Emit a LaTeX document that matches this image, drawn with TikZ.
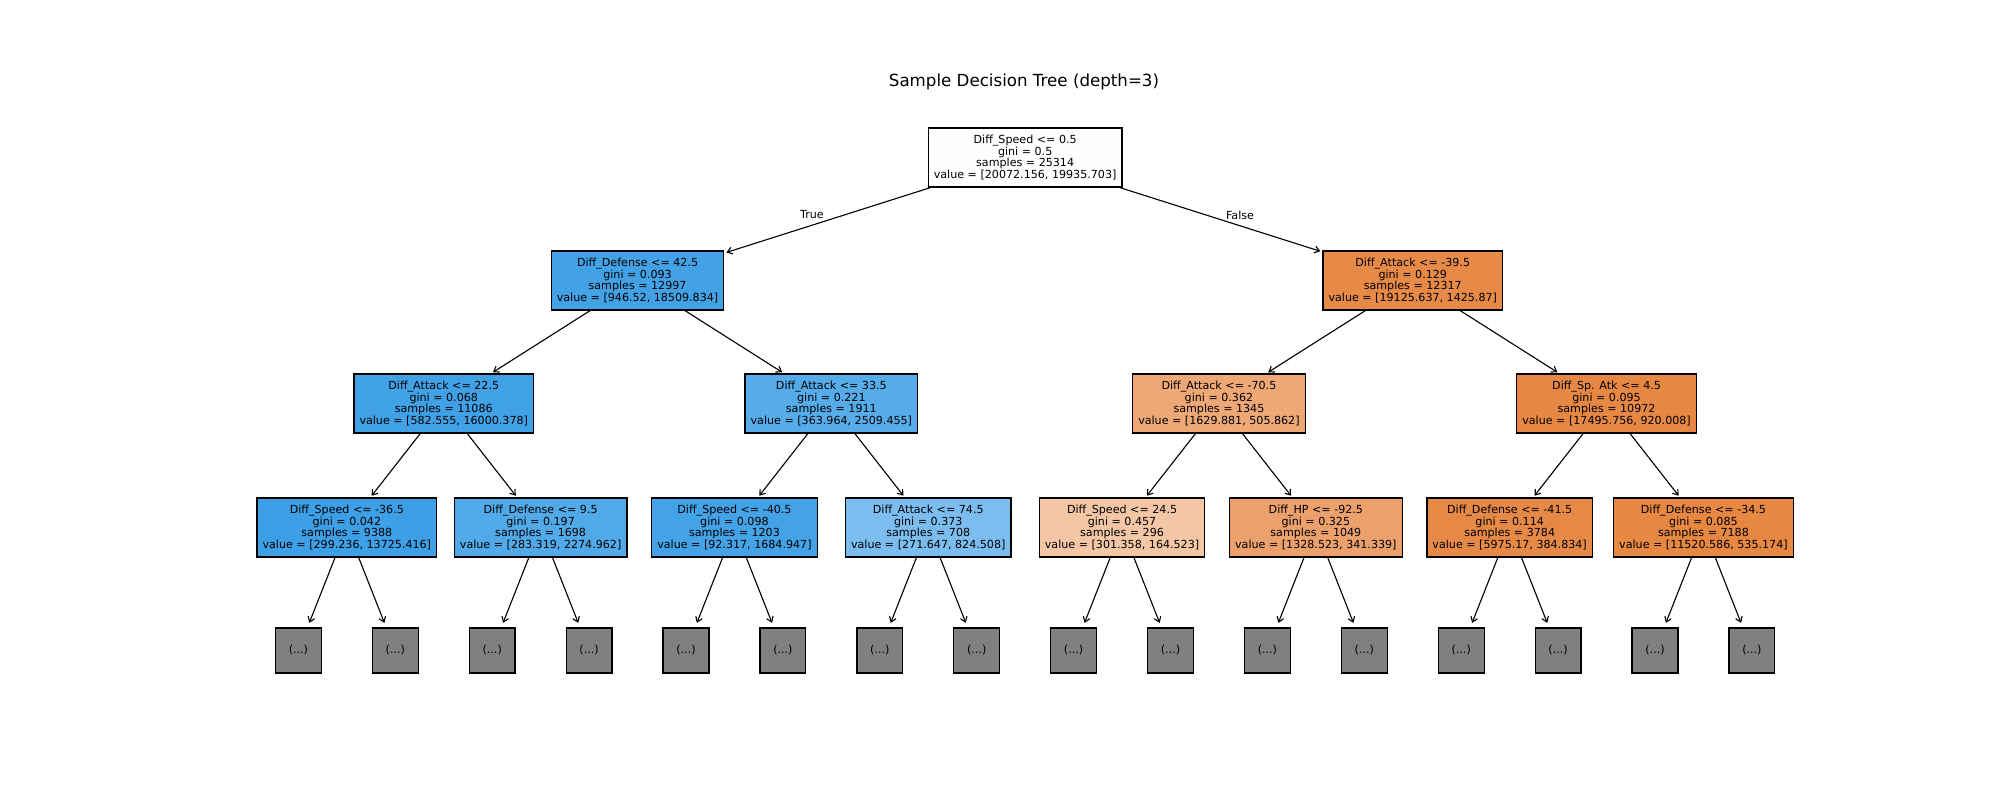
\documentclass[tikz,border=0pt]{standalone}
\usepackage{fontspec}
\setmainfont{DejaVu Sans}
\usetikzlibrary{arrows.meta}
\definecolor{cR}{RGB}{255,254,254}
\definecolor{cA}{RGB}{67,162,230}
\definecolor{cB}{RGB}{231,138,72}
\definecolor{cAA}{RGB}{64,161,230}
\definecolor{cAB}{RGB}{86,171,233}
\definecolor{cBA}{RGB}{237,168,118}
\definecolor{cBB}{RGB}{230,136,67}
\definecolor{cAAA}{RGB}{61,159,230}
\definecolor{cAAB}{RGB}{82,169,232}
\definecolor{cABA}{RGB}{68,162,230}
\definecolor{cABB}{RGB}{122,189,238}
\definecolor{cBAA}{RGB}{243,198,165}
\definecolor{cBAB}{RGB}{236,161,108}
\definecolor{cBBA}{RGB}{231,137,70}
\definecolor{cBBB}{RGB}{230,135,66}
\definecolor{leafgray}{RGB}{128,128,128}
\begin{document}
\begin{tikzpicture}[x=0.72bp,y=-0.72bp,
  tn/.style={draw=black, line width=0.9bp, align=center,
    font=\fontsize{8bp}{8.3bp}\selectfont, inner xsep=4bp, inner ysep=0pt,
    minimum height=42.5bp, text=black},
  leaf/.style={draw=black, line width=0.9bp, fill=leafgray, minimum width=33bp,
    minimum height=32.4bp, inner sep=0pt, font=\fontsize{8bp}{8.3bp}\selectfont, text=black},
  conn/.style={-{Straight Barb[length=3.5bp,width=5bp]}, line width=0.8bp, shorten >=1.5bp},
  lbl/.style={font=\fontsize{8bp}{8.3bp}\selectfont, inner sep=0pt, text=black}
]
\fill[white] (0,0) rectangle (2000,800);
\useasboundingbox (0,0) rectangle (2000,800);

\node[inner sep=0pt, font=\fontsize{12bp}{14bp}\selectfont] (title) at (1024,82) {Sample Decision Tree (depth=3)};

% root
\node[tn, fill=cR] (r) at (1025.15,157.5) {Diff\_Speed <= 0.5\\gini = 0.5\\samples = 25314\\value = [20072.156, 19935.703]};
% level 1
\node[tn, fill=cA] (a) at (637.55,280.5) {Diff\_Defense <= 42.5\\gini = 0.093\\samples = 12997\\value = [946.52, 18509.834]};
\node[tn, fill=cB] (b) at (1412.75,280.5) {Diff\_Attack <= -39.5\\gini = 0.129\\samples = 12317\\value = [19125.637, 1425.87]};
% level 2
\node[tn, fill=cAA] (aa) at (443.75,403.5) {Diff\_Attack <= 22.5\\gini = 0.068\\samples = 11086\\value = [582.555, 16000.378]};
\node[tn, fill=cAB] (ab) at (831.35,403.5) {Diff\_Attack <= 33.5\\gini = 0.221\\samples = 1911\\value = [363.964, 2509.455]};
\node[tn, fill=cBA] (ba) at (1218.95,403.5) {Diff\_Attack <= -70.5\\gini = 0.362\\samples = 1345\\value = [1629.881, 505.862]};
\node[tn, fill=cBB] (bb) at (1606.55,403.5) {Diff\_Sp. Atk <= 4.5\\gini = 0.095\\samples = 10972\\value = [17495.756, 920.008]};
% level 3
\node[tn, fill=cAAA] (n30) at (346.85,527.5) {Diff\_Speed <= -36.5\\gini = 0.042\\samples = 9388\\value = [299.236, 13725.416]};
\node[tn, fill=cAAB] (n31) at (540.65,527.5) {Diff\_Defense <= 9.5\\gini = 0.197\\samples = 1698\\value = [283.319, 2274.962]};
\node[tn, fill=cABA] (n32) at (734.45,527.5) {Diff\_Speed <= -40.5\\gini = 0.098\\samples = 1203\\value = [92.317, 1684.947]};
\node[tn, fill=cABB] (n33) at (928.25,527.5) {Diff\_Attack <= 74.5\\gini = 0.373\\samples = 708\\value = [271.647, 824.508]};
\node[tn, fill=cBAA] (n34) at (1122.05,527.5) {Diff\_Speed <= 24.5\\gini = 0.457\\samples = 296\\value = [301.358, 164.523]};
\node[tn, fill=cBAB] (n35) at (1315.85,527.5) {Diff\_HP <= -92.5\\gini = 0.325\\samples = 1049\\value = [1328.523, 341.339]};
\node[tn, fill=cBBA] (n36) at (1509.65,527.5) {Diff\_Defense <= -41.5\\gini = 0.114\\samples = 3784\\value = [5975.17, 384.834]};
\node[tn, fill=cBBB] (n37) at (1703.45,527.5) {Diff\_Defense <= -34.5\\gini = 0.085\\samples = 7188\\value = [11520.586, 535.174]};
% leaves
\foreach \i in {0,...,15} {
  \node[leaf] (f\i) at ({298.4+96.9*\i},650.5) {(...)};
}

% connectors
\draw[conn] (r) -- (a);
\draw[conn] (r) -- (b);
\draw[conn] (a) -- (aa);
\draw[conn] (a) -- (ab);
\draw[conn] (b) -- (ba);
\draw[conn] (b) -- (bb);
\draw[conn] (aa) -- (n30);
\draw[conn] (aa) -- (n31);
\draw[conn] (ab) -- (n32);
\draw[conn] (ab) -- (n33);
\draw[conn] (ba) -- (n34);
\draw[conn] (ba) -- (n35);
\draw[conn] (bb) -- (n36);
\draw[conn] (bb) -- (n37);
\foreach \i in {0,...,7} {
  \pgfmathtruncatemacro\la{2*\i}
  \pgfmathtruncatemacro\lb{2*\i+1}
  \draw[conn, shorten >=3.5bp] (n3\i) -- (f\la);
  \draw[conn, shorten >=3.5bp] (n3\i) -- (f\lb);
}

\node[lbl] (tl) at (812,215) {True};
\node[lbl] (fl) at (1240,215) {False};
\end{tikzpicture}
\end{document}
